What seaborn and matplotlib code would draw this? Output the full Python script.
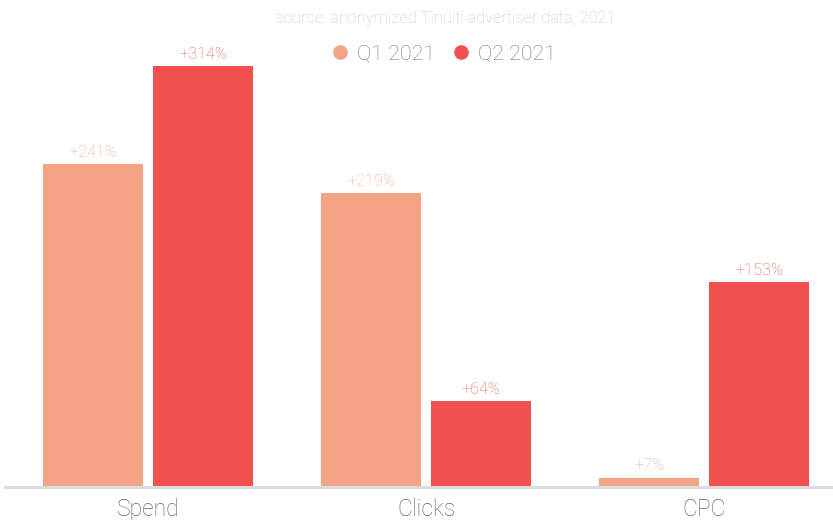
import pandas as pd
import matplotlib.pyplot as plt
import seaborn as sns
from matplotlib.lines import Line2D

# values
metrics = ["Spend", "Clicks", "CPC"]
q1_growth = [241, 219, 7]
q2_growth = [314, 64, 153]
quarters = ["Q1 2021", "Q2 2021"]
colors = ["#F5A385", "#F0514E"]
label_colors = ["#F4A88C", "#F05A57"]

df = pd.DataFrame({
    "metric": metrics * 2,
    "quarter": [quarters[0]] * 3 + [quarters[1]] * 3,
    "growth": q1_growth + q2_growth,
})

sns.set_style("white")
plt.rcParams["font.family"] = ["Roboto", "DejaVu Sans"]

fig = plt.figure(figsize=(8.33, 5.2), dpi=100)
ax = fig.add_axes([5 / 833, 33 / 520, 828 / 833, 487 / 520])

sns.barplot(data=df, x="metric", y="growth", hue="quarter", palette=colors,
            width=0.791, gap=0.091, saturation=1, legend=False, linewidth=0, ax=ax)

for cont, vals, col in zip(ax.containers, [q1_growth, q2_growth], label_colors):
    ax.bar_label(cont, labels=[f"+{v}%" for v in vals], padding=3,
                 color=col, fontsize=11.7, fontweight="light")

ax.set_xlim(-143 / 278, 685 / 278)
ax.set_ylim(0, 363)
ax.set_xlabel("")
ax.set_ylabel("")
ax.set_yticks([])
for s in ["top", "left", "right"]:
    ax.spines[s].set_visible(False)
ax.spines["bottom"].set_color("#DDDDDD")
ax.spines["bottom"].set_linewidth(2.2)
ax.tick_params(axis="x", length=0, pad=8, labelsize=16.5, labelcolor="#666666")
for t in ax.get_xticklabels():
    t.set_fontweight("light")

fig.text(445 / 833, 1 - 18 / 520, "source: anonymized Tinuiti advertiser data, 2021",
         ha="center", va="center", fontsize=11.8, color="#C8C8C8", fontweight="light")

handles = [Line2D([], [], marker="o", linestyle="", markersize=9.5,
                  markerfacecolor=c, markeredgecolor=c) for c in colors]
leg = ax.legend(handles, quarters, loc="center", ncol=2, frameon=False,
                bbox_to_anchor=(443 / 833, 1 - 54 / 520), bbox_transform=fig.transFigure,
                handletextpad=0.3, columnspacing=0.7, handlelength=1.0,
                prop={"size": 15.4, "weight": "light"})
for t in leg.get_texts():
    t.set_color("#777777")

fig.savefig("out.png", dpi=100)
